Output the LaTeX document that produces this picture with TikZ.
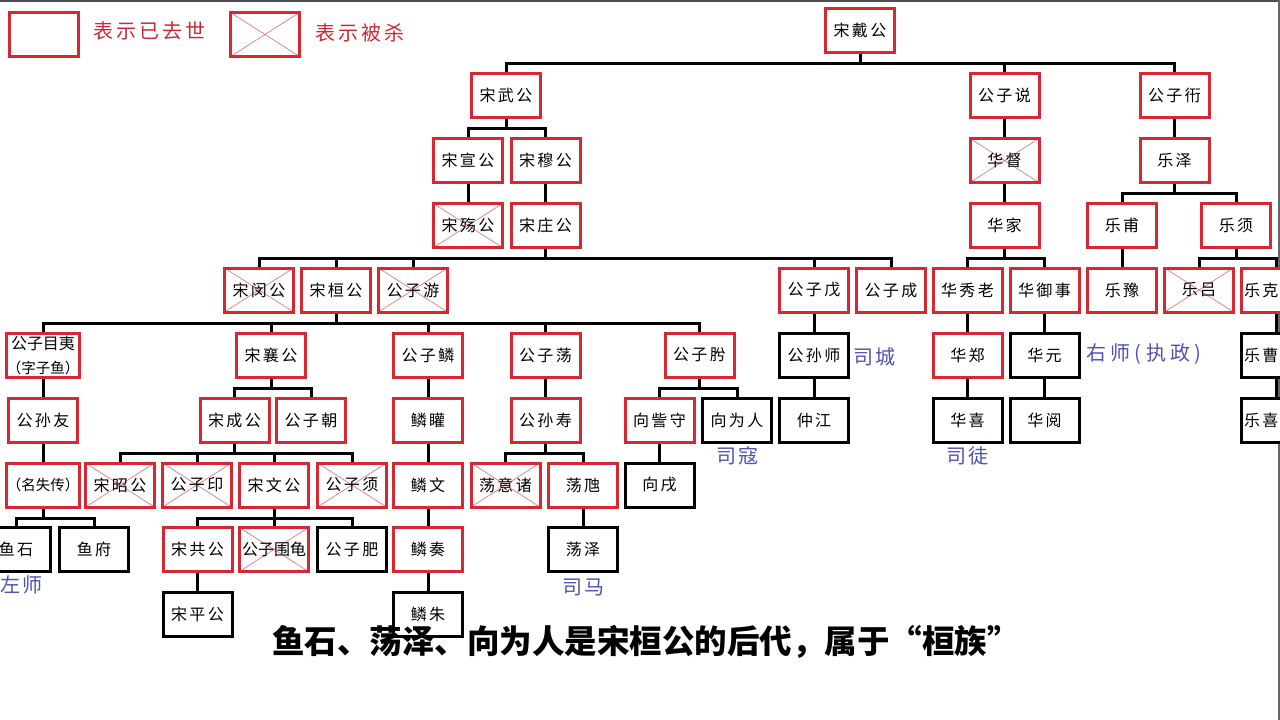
\documentclass[tikz,border=0pt]{standalone}
\usepackage{fontspec}
\newfontfamily\cjk{Noto Sans CJK SC}
\newfontfamily\cjksp[LetterSpace=15]{Noto Sans CJK SC}
\newfontfamily\cjklab[LetterSpace=10]{Noto Sans CJK SC}
\newfontfamily\cjkwide[LetterSpace=22]{Noto Sans CJK SC}
\definecolor{boxred}{RGB}{214,40,50}
\definecolor{crossred}{RGB}{228,120,130}
\definecolor{labblue}{RGB}{78,82,178}
\definecolor{legred}{RGB}{205,40,50}
\pgfdeclarelayer{bg}
\pgfsetlayers{bg,main}
\tikzset{
  box/.style={draw=boxred, line width=3pt, fill=white, minimum width=69pt, minimum height=44pt, inner sep=0pt,
    font={\cjksp\fontsize{16}{24}\selectfont}},
  bbox/.style={box, draw=black},
  kbox/.style={box, path picture={\draw[crossred, line width=0.7pt]
      (path picture bounding box.north west) -- (path picture bounding box.south east)
      (path picture bounding box.south west) -- (path picture bounding box.north east);}},
  edgebox/.style={text width=64pt, align=left},
  conn/.style={line width=3pt, draw=black},
  lab/.style={text=labblue, inner sep=0pt, font={\cjklab\fontsize{20}{22}\selectfont}},
  legtext/.style={text=legred, inner sep=0pt, anchor=west, font={\cjksp\fontsize{20}{22}\selectfont}},
}
\newcommand\kin[2]{\draw[conn] (#1.south) -- ++(0,9.5) -| (#2.north);}
\begin{document}
\begin{tikzpicture}[x=1pt,y=-1pt]
\path[use as bounding box, clip] (0,0) rectangle (1280,720);
\draw[black!70, line width=2pt] (0,1) -- (1280,1);
\draw[black!60, line width=1.5pt] (1279,0) -- (1279,720);

% legend
\node[box] (leg1) at (44,34.5) {};
\node[legtext] (leg1t) at (93,31) {表示已去世};
\node[kbox] (leg2) at (265,34.5) {};
\node[legtext] (leg2t) at (315,33) {表示被杀};

% L0
\node[box] (daigong) at (860,30.5) {宋戴公};
% L1
\node[box] (wugong) at (506,95.5) {宋武公};
\node[box] (yue) at (1004.5,95.5) {公子说};
\node[box] (kan) at (1174.5,95.5) {公子衎};
% L2
\node[box] (xuan) at (468,160.5) {宋宣公};
\node[box] (mu) at (545.5,160.5) {宋穆公};
\node[kbox] (hudu) at (1004.5,160.5) {华督};
\node[box] (leze) at (1174.5,160.5) {乐泽};
% L3
\node[kbox] (shang) at (468,225.5) {宋殇公};
\node[box] (zhuang) at (545.5,225.5) {宋庄公};
\node[box] (huajia) at (1004.5,225.5) {华家};
\node[box] (lefu) at (1122,225.5) {乐甫};
\node[box] (lexu) at (1236,225.5) {乐须};
% L4
\node[kbox] (min) at (259,290) {宋闵公};
\node[box] (huan) at (336,290) {宋桓公};
\node[kbox] (you) at (413,290) {公子游};
\node[box] (wu) at (814,290) {公子戊};
\node[box] (cheng) at (891,290) {公子成};
\node[box] (xiulao) at (967.5,290) {华秀老};
\node[box] (yushi) at (1044.5,290) {华御事};
\node[box] (leyu) at (1122,290) {乐豫};
\node[kbox] (lelv) at (1199,290) {乐吕};
\node[box, edgebox] (leke) at (1276,290) {乐克};
% L5
\node[box, align=center, font={\cjk\fontsize{16}{24}\selectfont}] (muyi) at (43,355) {公子目夷\\{\fontsize{14.5}{24}\selectfont （字子鱼）}};
\node[box] (xiang) at (271,355) {宋襄公};
\node[box] (lin) at (428,355) {公子鳞};
\node[box] (dang) at (545.5,355) {公子荡};
\node[box] (xi) at (699.5,355) {公子肹};
\node[bbox] (gsshi) at (814,355) {公孙师};
\node[box] (huazheng) at (967.5,355) {华郑};
\node[bbox] (huayuan) at (1044.5,355) {华元};
\node[bbox, edgebox] (lecao) at (1276,355) {乐曹};
% L6
\node[box] (gsyou) at (43,420) {公孙友};
\node[box] (chenggong) at (234.5,420) {宋成公};
\node[box] (zichao) at (311,420) {公子朝};
\node[box] (linguan) at (428,420) {鳞矔};
\node[box] (gsshou) at (545.5,420) {公孙寿};
\node[box] (xiangzi) at (659.5,420) {向訾守};
\node[bbox] (xiangwr) at (737,420) {向为人};
\node[bbox] (zhongjiang) at (814,420) {仲江};
\node[bbox] (huaxi) at (967.5,420) {华喜};
\node[bbox] (huayue) at (1044.5,420) {华阅};
\node[bbox, edgebox] (lexi) at (1276,420) {乐喜};
% L7
\node[box] (mingshi) at (43,485) {{\cjk\fontsize{14.5}{24}\selectfont （名失传）}};
\node[kbox] (zhao) at (120,485) {宋昭公};
\node[kbox] (ang) at (197,485) {公子印};
\node[box] (wen) at (274,485) {宋文公};
\node[kbox] (zixu) at (352,485) {公子须};
\node[box] (linwen) at (428,485) {鳞文};
\node[kbox] (dangyi) at (505.5,485) {荡意诸};
\node[box] (danghui) at (583,485) {荡虺};
\node[bbox] (xiangxu) at (659.5,485) {向戌};
% L8
\node[bbox] (yushi2) at (16,549.5) {鱼石};
\node[bbox] (yufu) at (94,549.5) {鱼府};
\node[box] (gong) at (197.5,549.5) {宋共公};
\node[kbox, font={\cjk\fontsize{16}{24}\selectfont}] (weigui) at (274,549.5) {公子围龟};
\node[bbox] (fei) at (352,549.5) {公子肥};
\node[box] (linzou) at (428,549.5) {鳞奏};
\node[bbox] (dangze) at (583,549.5) {荡泽};
% L9
\node[bbox] (ping) at (197.5,614) {宋平公};
\node[bbox] (linzhu) at (428,614) {鳞朱};

% labels
\node[lab] (sicheng) at (874,357) {司城};
\node[lab, anchor=west, font={\cjkwide\fontsize{20}{22}\selectfont}] (youshi) at (1086,354) {右师(执政)};
\node[lab] (sikou) at (737,456) {司寇};
\node[lab] (situ) at (967,456) {司徒};
\node[lab, anchor=west] (zuoshi) at (0,585) {左师};
\node[lab] (sima) at (583,587) {司马};

% caption
\node[font={\cjk\bfseries\fontsize{32.5}{36}\selectfont}, inner sep=0pt] (cap) at (646,642) {鱼石、荡泽、向为人是宋桓公的后代，属于“桓族”};

\begin{pgfonlayer}{bg}
\kin{daigong}{wugong}\kin{daigong}{yue}\kin{daigong}{kan}
\kin{wugong}{xuan}\kin{wugong}{mu}
\kin{xuan}{shang}\kin{mu}{zhuang}
\kin{zhuang}{min}\kin{zhuang}{huan}\kin{zhuang}{you}\kin{zhuang}{wu}\kin{zhuang}{cheng}
\kin{yue}{hudu}\kin{hudu}{huajia}\kin{huajia}{xiulao}\kin{huajia}{yushi}
\kin{kan}{leze}\kin{leze}{lefu}\kin{leze}{lexu}\kin{lefu}{leyu}
\kin{lexu}{lelv}\kin{lexu}{leke}
\kin{huan}{muyi}\kin{huan}{xiang}\kin{huan}{lin}\kin{huan}{dang}\kin{huan}{xi}
\kin{wu}{gsshi}\kin{gsshi}{zhongjiang}
\kin{xiulao}{huazheng}\kin{huazheng}{huaxi}
\kin{yushi}{huayuan}\kin{huayuan}{huayue}
\kin{leke}{lecao}\kin{lecao}{lexi}
\kin{muyi}{gsyou}\kin{gsyou}{mingshi}\kin{mingshi}{yushi2}\kin{mingshi}{yufu}
\kin{xiang}{chenggong}\kin{xiang}{zichao}
\kin{chenggong}{zhao}\kin{chenggong}{ang}\kin{chenggong}{wen}\kin{chenggong}{zixu}
\kin{wen}{gong}\kin{wen}{weigui}\kin{wen}{fei}\kin{gong}{ping}
\kin{lin}{linguan}\kin{linguan}{linwen}\kin{linwen}{linzou}\kin{linzou}{linzhu}
\kin{dang}{gsshou}\kin{gsshou}{dangyi}\kin{gsshou}{danghui}\kin{danghui}{dangze}
\kin{xi}{xiangzi}\kin{xi}{xiangwr}\kin{xiangzi}{xiangxu}
\end{pgfonlayer}
\end{tikzpicture}
\end{document}
